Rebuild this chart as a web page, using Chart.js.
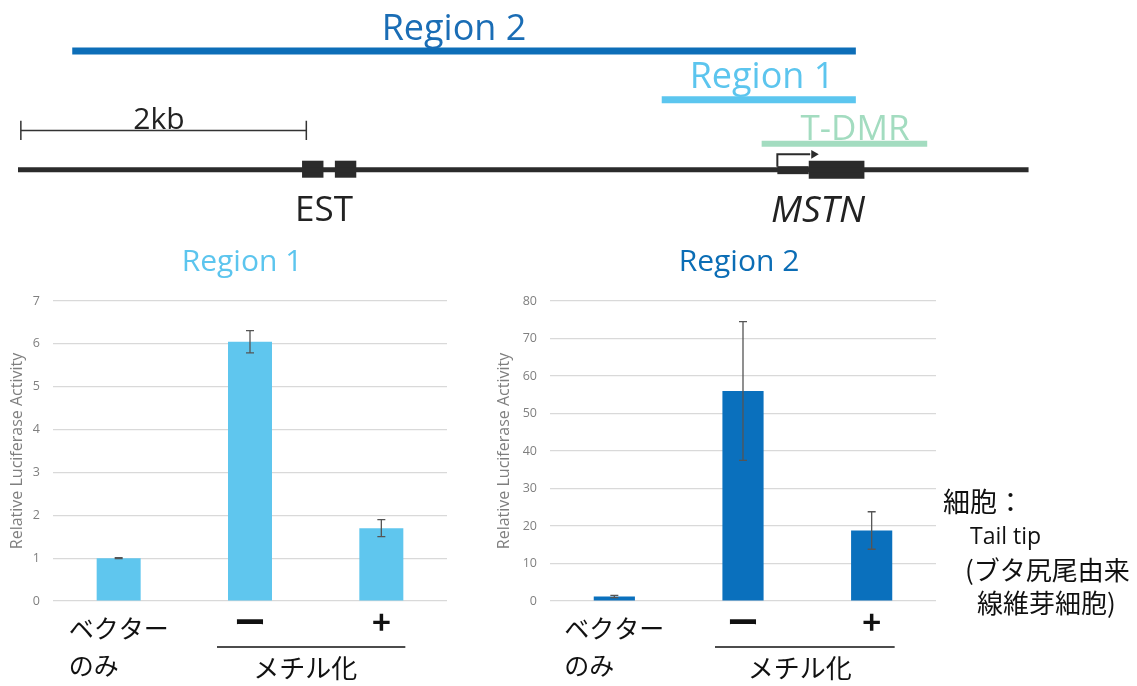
<!DOCTYPE html>
<html><head><meta charset="utf-8">
<script src="https://cdn.jsdelivr.net/npm/chart.js@4.4.1/dist/chart.umd.min.js"></script>
<style>
html,body{margin:0;padding:0;background:#fff;}
body{width:1137px;height:686px;position:relative;overflow:hidden;font-family:"Open Sans","Noto Sans CJK JP",sans-serif;}
.t{position:absolute;white-space:nowrap;line-height:1;}
.c{transform:translate(-50%,-50%);}
.l{transform:translate(0,-50%);}
.jp{font-family:'Noto Sans CJK JP';font-weight:400;color:#111;}
canvas{position:absolute;}
</style></head><body>
<canvas id="diagram" style="left:0;top:0;" width="1137" height="235"></canvas>
<canvas id="chart1" style="left:0;top:280px;" width="470" height="406"></canvas>
<canvas id="chart2" style="left:475px;top:280px;" width="480" height="406"></canvas>

<div class="t c" style="left:454px;top:27px;font-size:36px;color:#1a6db5;">Region 2</div>
<div class="t c" style="left:762px;top:75px;font-size:36px;color:#5cc5ee;">Region 1</div>
<div class="t c" style="left:855px;top:126px;font-size:35px;color:#a3dcc0;">T-DMR</div>
<div class="t c" style="left:159px;top:118px;font-size:30px;color:#222;">2kb</div>
<div class="t c" style="left:324px;top:207px;font-size:35px;color:#222;">EST</div>
<div class="t c" style="left:818px;top:207px;font-size:37px;color:#222;font-style:italic;">MSTN</div>

<div class="t c" style="left:242px;top:260px;font-size:30px;color:#5cc5ee;">Region 1</div>
<div class="t c" style="left:739px;top:260px;font-size:30px;color:#0b6db5;">Region 2</div>

<div class="t l jp" style="left:943px;top:500px;font-size:27px;">細胞：</div>
<div class="t l" style="left:970px;top:535px;font-size:23px;color:#111;">Tail tip</div>
<div class="t l jp" style="left:965px;top:569px;font-size:26px;">(ブタ尻尾由来</div>
<div class="t l jp" style="left:977px;top:602px;font-size:26px;">線維芽細胞)</div>

<script>
// ---------- data ----------
const categories = [['ベクター', 'のみ\u3000\u3000'], 'ー', '+'];
const groupLabel = 'メチル化';
const yTitle = 'Relative Luciferase Activity';

const region1Values = [1.0, 6.05, 1.70];
const region1Errors = [0.01, 0.26, 0.20];
const region1Ticks = [0, 1, 2, 3, 4, 5, 6, 7];

const region2Values = [1.2, 56, 18.8];
const region2Errors = [0.3, 18.5, 5.0];
const region2Ticks = [0, 10, 20, 30, 40, 50, 60, 70, 80];

// gene map, kb
const geneSpan = [-0.02, 7.06];
const scaleBarSpan = [0, 2];
const region2Span = [0.36, 5.85];
const region1Span = [4.49, 5.85];
const tdmrSpan = [5.19, 6.35];
const estExons = [[1.97, 2.12], [2.20, 2.35]];
const mstnUTR = [5.30, 5.52];
const mstnCDS = [5.52, 5.91];
const tssArrow = [5.30, 5.53];

// ---------- diagram ----------
const PX_PER_KB = 144, ORIGIN = 16;
function seg(a, b, y1, y2, w, color) {
  return { data: [{x: a, y: y1}, {x: b, y: y2}], borderColor: color, borderWidth: w,
    pointRadius: 0, borderCapStyle: 'butt', fill: false, tension: 0 };
}
const dark = '#2b2b2b';
const diagramSets = [
  seg(geneSpan[0], geneSpan[1], 172, 172, 5, dark),
  seg(region2Span[0], region2Span[1], 48, 48, 7, '#0d6eb8'),
  seg(region1Span[0], region1Span[1], 99, 99, 7, '#5cc6ef'),
  seg(tdmrSpan[0], tdmrSpan[1], 145, 145, 6, '#a3dcc0'),
  seg(scaleBarSpan[0], scaleBarSpan[1], 131, 131, 1.5, '#333'),
  seg(scaleBarSpan[0], scaleBarSpan[0], 121, 141, 1.5, '#333'),
  seg(scaleBarSpan[1], scaleBarSpan[1], 121, 141, 1.5, '#333'),
  ...estExons.map(e => seg(e[0], e[1], 171.5, 171.5, 17, dark)),
  seg(mstnUTR[0], mstnUTR[1], 172.5, 172.5, 8, dark),
  seg(mstnCDS[0], mstnCDS[1], 172, 172, 18, dark),
  { data: [{x: tssArrow[0], y: 169}, {x: tssArrow[0], y: 156}, {x: tssArrow[1], y: 156}],
    borderColor: dark, borderWidth: 2, pointRadius: 0, fill: false, tension: 0, borderJoinStyle: 'miter' },
  { data: [{x: tssArrow[1] + 0.025, y: 156}], showLine: false, pointStyle: 'triangle', rotation: 90,
    pointRadius: 5, backgroundColor: dark, borderWidth: 0 }
];
new Chart(document.getElementById('diagram'), {
  type: 'line',
  data: { datasets: diagramSets },
  options: {
    responsive: false, animation: false, events: [], devicePixelRatio: 1,
    layout: { padding: 0 },
    plugins: { legend: { display: false }, tooltip: { enabled: false } },
    scales: {
      x: { type: 'linear', display: false, min: -ORIGIN / PX_PER_KB, max: (1137 - ORIGIN) / PX_PER_KB },
      y: { type: 'linear', display: false, min: 0, max: 235, reverse: true }
    }
  }
});

// ---------- bar charts ----------
const errorBars = {
  id: 'errorBars',
  afterDatasetsDraw(chart, args, o) {
    const {ctx, scales: {y}} = chart;
    const meta = chart.getDatasetMeta(0);
    const vals = chart.data.datasets[0].data;
    ctx.save();
    ctx.strokeStyle = o.color; ctx.lineWidth = o.width;
    meta.data.forEach((bar, i) => {
      const v = vals[i], e = o.errors[i];
      const yt = y.getPixelForValue(v + e), yb = y.getPixelForValue(v - e);
      ctx.beginPath();
      ctx.moveTo(bar.x, yt); ctx.lineTo(bar.x, yb);
      ctx.moveTo(bar.x - o.cap, yt); ctx.lineTo(bar.x + o.cap, yt);
      ctx.moveTo(bar.x - o.cap, yb); ctx.lineTo(bar.x + o.cap, yb);
      ctx.stroke();
    });
    ctx.restore();
  }
};
const groupBracket = {
  id: 'groupBracket',
  afterDraw(chart, args, o) {
    const {ctx, scales: {x}, chartArea} = chart;
    const x1 = x.getPixelForValue(o.from) - o.padL, x2 = x.getPixelForValue(o.to) + o.padR;
    ctx.save();
    ctx.strokeStyle = '#111'; ctx.lineWidth = 1.5;
    ctx.beginPath();
    ctx.moveTo(x1, chartArea.bottom + o.lineGap); ctx.lineTo(x2, chartArea.bottom + o.lineGap);
    ctx.stroke();
    ctx.fillStyle = '#111';
    ctx.font = '26px "Noto Sans CJK JP"';
    ctx.textAlign = 'center'; ctx.textBaseline = 'middle';
    ctx.fillText(o.label, (x1 + x2) / 2 + o.shift, chartArea.bottom + o.textGap);
    ctx.restore();
  }
};

function barChart(id, values, errors, ticks, color, cfg) {
  return new Chart(document.getElementById(id), {
    type: 'bar',
    data: { labels: categories, datasets: [{ data: values, backgroundColor: color, borderWidth: 0,
      categoryPercentage: 1, barPercentage: cfg.barPct }] },
    options: {
      responsive: false, animation: false, events: [], devicePixelRatio: 1,
      layout: { padding: { top: 21, right: cfg.padRight, bottom: 0, left: 0 } },
      plugins: {
        legend: { display: false }, tooltip: { enabled: false },
        errorBars: { errors: errors, color: '#555', width: 1.3, cap: 4 },
        groupBracket: Object.assign({ label: groupLabel, from: 1, to: 2 }, cfg.bracket)
      },
      scales: {
        x: {
          grid: { display: false, drawTicks: false }, border: { display: false },
          ticks: {
            color: '#111', padding: 9, maxRotation: 0, autoSkip: false,
            font: (c) => c.index === 0
              ? { family: '"Noto Sans CJK JP"', size: 25, lineHeight: 1.48 }
              : { family: '"Noto Sans CJK JP"', size: 32, weight: 'bold', lineHeight: 0.75 }
          },
          afterFit: (s) => { s.height = 85; }
        },
        y: {
          min: 0, max: ticks[ticks.length - 1],
          afterBuildTicks: (s) => { s.ticks = ticks.map(v => ({ value: v })); },
          grid: { color: '#d9d9d9', lineWidth: 1.2, drawTicks: false }, border: { display: false },
          ticks: { color: '#7f7f7f', padding: cfg.tickPad, font: { family: '"Open Sans"', size: 12.5 } },
          title: { display: true, text: yTitle, color: '#7f7f7f',
            font: { family: '"Open Sans"', size: 16 }, padding: { top: cfg.titlePad, bottom: 0 } },
          afterFit: (s) => { s.width = cfg.axisWidth; }
        }
      }
    },
    plugins: [errorBars, groupBracket]
  });
}

barChart('chart1', region1Values, region1Errors, region1Ticks, '#5fc6ee',
  { barPct: 0.335, padRight: 23, axisWidth: 53, tickPad: 13, titlePad: 8,
    bracket: { padL: 33, padR: 24, lineGap: 46, textGap: 67, shift: -6 } });
barChart('chart2', region2Values, region2Errors, region2Ticks, '#0a70bd',
  { barPct: 0.32, padRight: 19, axisWidth: 75, tickPad: 13, titlePad: 20,
    bracket: { padL: 28, padR: 23, lineGap: 46, textGap: 67, shift: -5 } });
</script>
</body></html>
